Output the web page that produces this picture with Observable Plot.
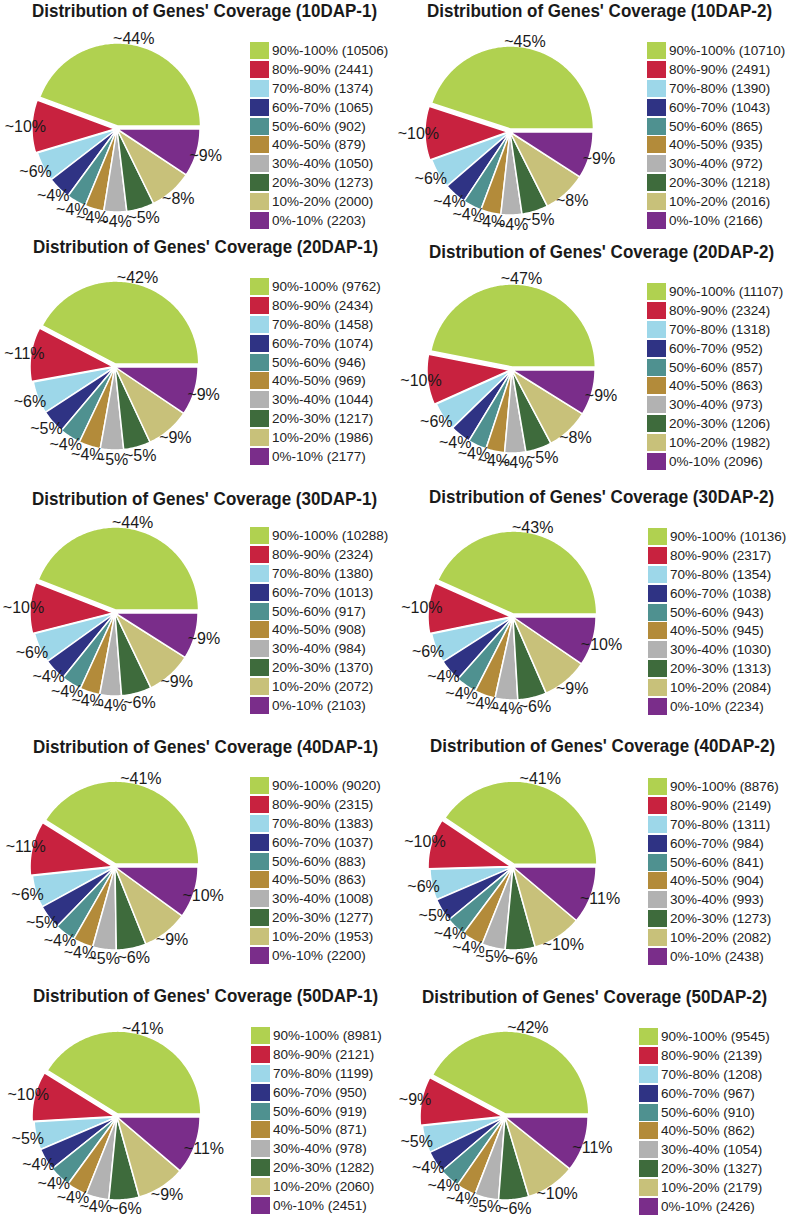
<!DOCTYPE html>
<html>
<head>
<meta charset="utf-8">
<script src="https://cdn.jsdelivr.net/npm/d3@7"></script>
<script src="https://cdn.jsdelivr.net/npm/@observablehq/plot@0.6"></script>
<style>
  body { margin: 0; background: #fff; font-family: "Liberation Sans", Arial, sans-serif; }
  #root { position: relative; width: 787px; height: 1220px; overflow: hidden; background: #fff; }
  .title { position: absolute; font-weight: bold; font-size: 17px; line-height: 17px; color: #1a1a1a; white-space: nowrap;
           transform: scaleY(1.12); transform-origin: 0 14.4px; }
  .legend { position: absolute; }
  .item { display: flex; align-items: center; height: 18.9px; font-size: 13.5px; color: #222; white-space: nowrap; }
  .sw { width: 19px; height: 17px; margin-right: 3px; flex: none; }
  .chart { position: absolute; }
</style>
</head>
<body>
<div id="root"></div>
<script>
// ---- data ----
const categories = ["90%-100%", "80%-90%", "70%-80%", "60%-70%", "50%-60%", "40%-50%", "30%-40%", "20%-30%", "10%-20%", "0%-10%"];
const colors = ["#b0d150", "#c8223f", "#9dd7e9", "#2f3384", "#4f9190", "#b38b3a", "#b2b2b2", "#3e6b3c", "#c8c17a", "#7a2d8a"];
const samples = ["10DAP-1", "10DAP-2", "20DAP-1", "20DAP-2", "30DAP-1", "30DAP-2", "40DAP-1", "40DAP-2", "50DAP-1", "50DAP-2"];

const counts10DAP1 = [10506, 2441, 1374, 1065, 902, 879, 1050, 1273, 2000, 2203];
const counts10DAP2 = [10710, 2491, 1390, 1043, 865, 935, 972, 1218, 2016, 2166];
const counts20DAP1 = [9762, 2434, 1458, 1074, 946, 969, 1044, 1217, 1986, 2177];
const counts20DAP2 = [11107, 2324, 1318, 952, 857, 863, 973, 1206, 1982, 2096];
const counts30DAP1 = [10288, 2324, 1380, 1013, 917, 908, 984, 1370, 2072, 2103];
const counts30DAP2 = [10136, 2317, 1354, 1038, 943, 945, 1030, 1313, 2084, 2234];
const counts40DAP1 = [9020, 2315, 1383, 1037, 883, 863, 1008, 1277, 1953, 2200];
const counts40DAP2 = [8876, 2149, 1311, 984, 841, 904, 993, 1273, 2082, 2438];
const counts50DAP1 = [8981, 2121, 1199, 950, 919, 871, 978, 1282, 2060, 2451];
const counts50DAP2 = [9545, 2139, 1208, 967, 910, 862, 1054, 1327, 2179, 2426];

const allCounts = [counts10DAP1, counts10DAP2, counts20DAP1, counts20DAP2, counts30DAP1,
                   counts30DAP2, counts40DAP1, counts40DAP2, counts50DAP1, counts50DAP2];

// ---- layout (page pixels) ----
const layout = [
  {left: 0,   tx: 32,  tb: 17,   cx: 117, cy: 129,  lx: 250, ly: 42},
  {left: 393, tx: 427, tb: 17,   cx: 510, cy: 132,  lx: 647, ly: 42},
  {left: 0,   tx: 33,  tb: 253,  cx: 115, cy: 367,  lx: 250, ly: 278},
  {left: 393, tx: 429, tb: 258,  cx: 512, cy: 370,  lx: 647, ly: 283},
  {left: 0,   tx: 32,  tb: 505,  cx: 115, cy: 613,  lx: 250, ly: 527},
  {left: 393, tx: 429, tb: 503,  cx: 513, cy: 617,  lx: 648, ly: 528},
  {left: 0,   tx: 33,  tb: 753,  cx: 115, cy: 867,  lx: 250, ly: 777},
  {left: 393, tx: 430, tb: 752,  cx: 513, cy: 867,  lx: 648, ly: 778},
  {left: 0,   tx: 33,  tb: 1002, cx: 117, cy: 1117, lx: 251, ly: 1027},
  {left: 393, tx: 422, tb: 1003, cx: 505, cy: 1117, lx: 639, ly: 1028}
];
const R = 83;            // pie radius in px (1 data unit)
const PW = 394;          // panel svg width
const explode = [3 / R, 2 / R, 0, 0, 0, 0, 0, 0, 0, 0];
const labelR = 1.11;

const root = document.getElementById("root");

samples.forEach((sample, p) => {
  const counts = allCounts[p];
  const L = layout[p];
  const total = d3.sum(counts);

  // title
  const t = document.createElement("div");
  t.className = "title";
  t.textContent = `Distribution of Genes' Coverage (${sample})`;
  t.style.left = L.tx + "px";
  t.style.top = (L.tb - 14.4) + "px";
  root.appendChild(t);

  // pie geometry: start at 3 o'clock, counter-clockwise
  const arcs = d3.pie().sort(null).startAngle(0).endAngle(2 * Math.PI)(counts);
  const rows = [];
  const labels = [];
  arcs.forEach((a, i) => {
    const mid = (a.startAngle + a.endAngle) / 2;
    const ox = explode[i] * Math.cos(mid), oy = explode[i] * Math.sin(mid);
    const n = Math.max(2, Math.ceil((a.endAngle - a.startAngle) / 0.02));
    for (let k = 0; k <= n; k++) {
      const th = a.startAngle + (a.endAngle - a.startAngle) * k / n;
      rows.push({cat: categories[i], slice: i, x1: ox, y1: oy, x2: ox + Math.cos(th), y2: oy + Math.sin(th)});
    }
    labels.push({x: labelR * Math.cos(mid), y: labelR * Math.sin(mid),
                 text: "~" + Math.round(100 * counts[i] / total) + "%"});
  });

  const top = L.tb + 5;
  const H = L.cy + 106 - top;
  const pcx = L.cx - L.left, pcy = L.cy - top;

  const chart = Plot.plot({
    width: PW,
    height: H,
    margin: 0,
    style: {fontFamily: "'Liberation Sans', Arial, sans-serif", overflow: "visible", background: "transparent"},
    x: {domain: [-pcx / R, (PW - pcx) / R], axis: null},
    y: {domain: [-(H - pcy) / R, pcy / R], axis: null},
    color: {domain: categories, range: colors},
    marks: [
      Plot.area(rows, {x1: "x1", y1: "y1", x2: "x2", y2: "y2", z: "slice", fill: "cat",
                       stroke: "white", strokeWidth: 1.5, strokeLinejoin: "round", curve: "linear"}),
      Plot.text(labels, {x: "x", y: "y", text: "text", fontSize: 16, fill: "#1a1a1a"})
    ]
  });
  const wrap = document.createElement("div");
  wrap.className = "chart";
  wrap.style.left = L.left + "px";
  wrap.style.top = top + "px";
  wrap.appendChild(chart);
  root.appendChild(wrap);

  // legend
  const lg = document.createElement("div");
  lg.className = "legend";
  lg.style.left = L.lx + "px";
  lg.style.top = (L.ly - 0.95) + "px";
  categories.forEach((c, i) => {
    const it = document.createElement("div");
    it.className = "item";
    const sw = document.createElement("span");
    sw.className = "sw";
    sw.style.background = colors[i];
    const tx = document.createElement("span");
    tx.textContent = `${c} (${counts[i]})`;
    it.appendChild(sw);
    it.appendChild(tx);
    lg.appendChild(it);
  });
  root.appendChild(lg);
});
</script>
</body>
</html>
